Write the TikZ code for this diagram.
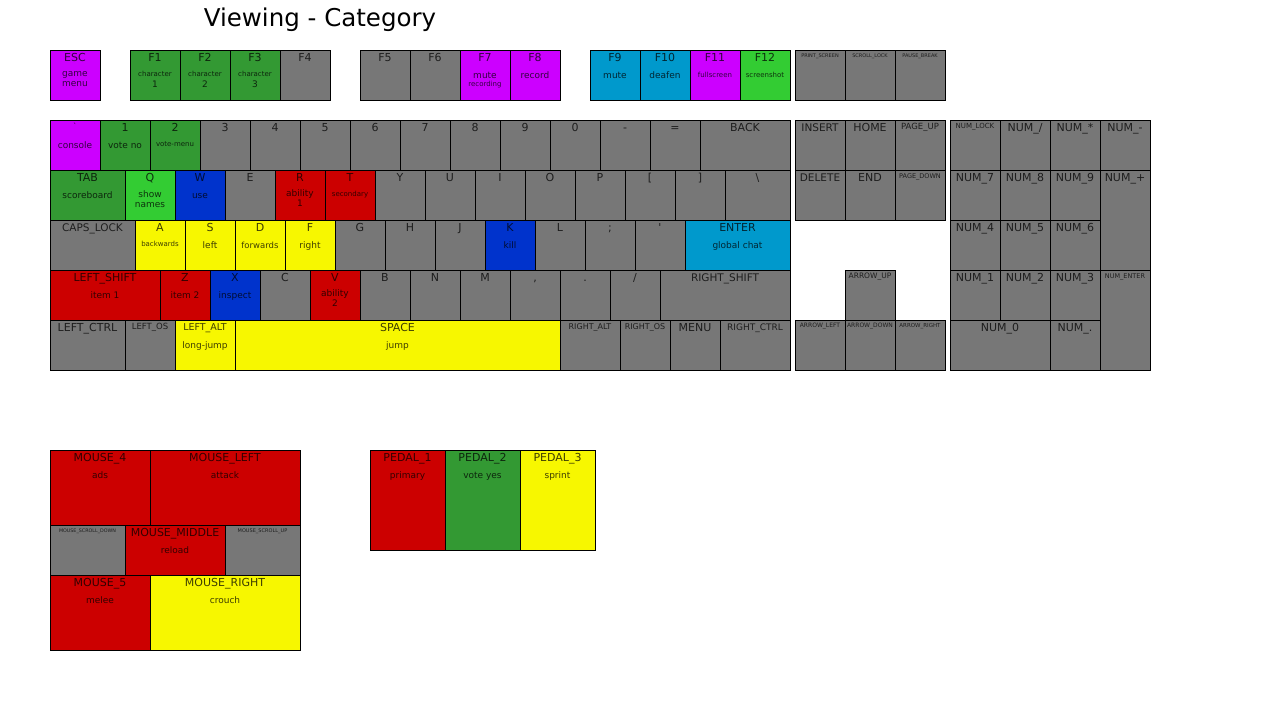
\documentclass[tikz,border=0pt]{standalone}
\usepackage{fontspec}
\newfontfamily\df{DejaVu Sans}
\definecolor{gy}{HTML}{777777}
\definecolor{pu}{HTML}{CC00FF}
\definecolor{dg}{HTML}{339933}
\definecolor{lg}{HTML}{33CC33}
\definecolor{bl}{HTML}{0033CC}
\definecolor{rd}{HTML}{CC0000}
\definecolor{ye}{HTML}{F7F700}
\definecolor{cy}{HTML}{0099CC}
\tikzset{
  key/.style={draw=black, line width=0.8pt, inner sep=0pt, outer sep=0pt, rectangle},
  lbl/.style={inner sep=0pt, outer sep=0pt, text=black, text opacity=0.75}
}
% #1 name, #2 x, #3 y, #4 w, #5 h, #6 colour, #7 label, #8 size
\newcommand\KEY[8]{%
  \node[key, fill=#6, minimum width=#4, minimum height=#5, anchor=north west] (#1) at (#2,#3) {};
  \node[lbl, font=\df\fontsize{#8}{#8}\selectfont, anchor=base] (#1-t) at ({#2+#4/2},{#3+3.5+0.73*#8}) {#7};}
% #1 key, #2 suffix, #3 offset, #4 size, #5 text
\newcommand\DSC[5]{%
  \node[lbl, font=\df\fontsize{#4}{#4}\selectfont, anchor=base, yshift=-#3pt] (#1-#2) at (#1.north) {#5};}
\begin{document}
\begin{tikzpicture}[x=1pt,y=-1pt]
\fill[white] (0,0) rectangle (1280,720);
\useasboundingbox (0,0) rectangle (1280,720);
\node[font=\df\fontsize{24.5}{24.5}\selectfont, inner sep=0pt] (title) at (320,20) {Viewing - Category};

% ---- function row
\KEY{esc}{50}{50}{50}{50}{pu}{ESC}{11}
\DSC{esc}{a}{26.5}{9}{game}\DSC{esc}{b}{36.5}{9}{menu}
\KEY{f1}{130}{50}{50}{50}{dg}{F1}{11}
\DSC{f1}{a}{26.5}{7}{character}\DSC{f1}{b}{37}{9}{1}
\KEY{f2}{180}{50}{50}{50}{dg}{F2}{11}
\DSC{f2}{a}{26.5}{7}{character}\DSC{f2}{b}{37}{9}{2}
\KEY{f3}{230}{50}{50}{50}{dg}{F3}{11}
\DSC{f3}{a}{26.5}{7}{character}\DSC{f3}{b}{37}{9}{3}
\KEY{f4}{280}{50}{50}{50}{gy}{F4}{11}
\KEY{f5}{360}{50}{50}{50}{gy}{F5}{11}
\KEY{f6}{410}{50}{50}{50}{gy}{F6}{11}
\KEY{f7}{460}{50}{50}{50}{pu}{F7}{11}
\DSC{f7}{a}{28}{9}{mute}\DSC{f7}{b}{36}{7}{recording}
\KEY{f8}{510}{50}{50}{50}{pu}{F8}{11}
\DSC{f8}{a}{28}{9}{record}
\KEY{f9}{590}{50}{50}{50}{cy}{F9}{11}
\DSC{f9}{a}{28}{9}{mute}
\KEY{f10}{640}{50}{50}{50}{cy}{F10}{11}
\DSC{f10}{a}{28}{9}{deafen}
\KEY{f11}{690}{50}{50}{50}{pu}{F11}{11}
\DSC{f11}{a}{27}{7}{fullscreen}
\KEY{f12}{740}{50}{50}{50}{lg}{F12}{11}
\DSC{f12}{a}{27}{7}{screenshot}
\KEY{prt}{795}{50}{50}{50}{gy}{PRINT\_SCREEN}{5}
\KEY{scr}{845}{50}{50}{50}{gy}{SCROLL\_LOCK}{5}
\KEY{pau}{895}{50}{50}{50}{gy}{PAUSE\_BREAK}{5}

% ---- number row
\KEY{bq}{50}{120}{50}{50}{pu}{`}{8}
\DSC{bq}{a}{28}{9}{console}
\KEY{k1}{100}{120}{50}{50}{dg}{1}{11}
\DSC{k1}{a}{28}{9}{vote no}
\KEY{k2}{150}{120}{50}{50}{dg}{2}{11}
\DSC{k2}{a}{26.5}{7}{vote-menu}
\KEY{k3}{200}{120}{50}{50}{gy}{3}{11}
\KEY{k4}{250}{120}{50}{50}{gy}{4}{11}
\KEY{k5}{300}{120}{50}{50}{gy}{5}{11}
\KEY{k6}{350}{120}{50}{50}{gy}{6}{11}
\KEY{k7}{400}{120}{50}{50}{gy}{7}{11}
\KEY{k8}{450}{120}{50}{50}{gy}{8}{11}
\KEY{k9}{500}{120}{50}{50}{gy}{9}{11}
\KEY{k0}{550}{120}{50}{50}{gy}{0}{11}
\KEY{kmin}{600}{120}{50}{50}{gy}{-}{11}
\KEY{keq}{650}{120}{50}{50}{gy}{=}{11}
\KEY{back}{700}{120}{90}{50}{gy}{BACK}{11}

% ---- qwerty row
\KEY{tab}{50}{170}{75}{50}{dg}{TAB}{11}
\DSC{tab}{a}{28}{9}{scoreboard}
\KEY{q}{125}{170}{50}{50}{lg}{Q}{11}
\DSC{q}{a}{27}{9}{show}\DSC{q}{b}{37}{9}{names}
\KEY{w}{175}{170}{50}{50}{bl}{W}{11}
\DSC{w}{a}{28}{9}{use}
\KEY{e}{225}{170}{50}{50}{gy}{E}{11}
\KEY{r}{275}{170}{50}{50}{rd}{R}{11}
\DSC{r}{a}{26.5}{9}{ability}\DSC{r}{b}{36.5}{9}{1}
\KEY{t}{325}{170}{50}{50}{rd}{T}{11}
\DSC{t}{a}{26}{7}{secondary}
\KEY{y}{375}{170}{50}{50}{gy}{Y}{11}
\KEY{u}{425}{170}{50}{50}{gy}{U}{11}
\KEY{i}{475}{170}{50}{50}{gy}{I}{11}
\KEY{o}{525}{170}{50}{50}{gy}{O}{11}
\KEY{p}{575}{170}{50}{50}{gy}{P}{11}
\KEY{lbr}{625}{170}{50}{50}{gy}{[}{11}
\KEY{rbr}{675}{170}{50}{50}{gy}{]}{11}
\KEY{bsl}{725}{170}{65}{50}{gy}{\textbackslash}{11}

% ---- home row
\KEY{caps}{50}{220}{85}{50}{gy}{CAPS\_LOCK}{10.5}
\KEY{a}{135}{220}{50}{50}{ye}{A}{11}
\DSC{a}{a}{26}{7}{backwards}
\KEY{s}{185}{220}{50}{50}{ye}{S}{11}
\DSC{s}{a}{28}{9}{left}
\KEY{d}{235}{220}{50}{50}{ye}{D}{11}
\DSC{d}{a}{28}{8.5}{forwards}
\KEY{f}{285}{220}{50}{50}{ye}{F}{11}
\DSC{f}{a}{28}{9}{right}
\KEY{g}{335}{220}{50}{50}{gy}{G}{11}
\KEY{h}{385}{220}{50}{50}{gy}{H}{11}
\KEY{j}{435}{220}{50}{50}{gy}{J}{11}
\KEY{k}{485}{220}{50}{50}{bl}{K}{11}
\DSC{k}{a}{28}{9}{kill}
\KEY{l}{535}{220}{50}{50}{gy}{L}{11}
\KEY{sc}{585}{220}{50}{50}{gy}{;}{11}
\KEY{ap}{635}{220}{50}{50}{gy}{'}{11}
\KEY{ent}{685}{220}{105}{50}{cy}{ENTER}{11}
\DSC{ent}{a}{28}{9}{global chat}

% ---- shift row
\KEY{ls}{50}{270}{110}{50}{rd}{LEFT\_SHIFT}{11}
\DSC{ls}{a}{28}{9}{item 1}
\KEY{z}{160}{270}{50}{50}{rd}{Z}{11}
\DSC{z}{a}{28}{9}{item 2}
\KEY{x}{210}{270}{50}{50}{bl}{X}{11}
\DSC{x}{a}{28}{9}{inspect}
\KEY{c}{260}{270}{50}{50}{gy}{C}{11}
\KEY{v}{310}{270}{50}{50}{rd}{V}{11}
\DSC{v}{a}{26.5}{9}{ability}\DSC{v}{b}{36.5}{9}{2}
\KEY{b}{360}{270}{50}{50}{gy}{B}{11}
\KEY{n}{410}{270}{50}{50}{gy}{N}{11}
\KEY{m}{460}{270}{50}{50}{gy}{M}{11}
\KEY{cm}{510}{270}{50}{50}{gy}{,}{11}
\KEY{pd}{560}{270}{50}{50}{gy}{.}{11}
\KEY{sl}{610}{270}{50}{50}{gy}{/}{11}
\KEY{rs}{660}{270}{130}{50}{gy}{RIGHT\_SHIFT}{10.5}

% ---- bottom row
\KEY{lc}{50}{320}{75}{50}{gy}{LEFT\_CTRL}{11}
\KEY{lo}{125}{320}{50}{50}{gy}{LEFT\_OS}{8.5}
\KEY{la}{175}{320}{60}{50}{ye}{LEFT\_ALT}{9.5}
\DSC{la}{a}{28}{9}{long-jump}
\KEY{sp}{235}{320}{325}{50}{ye}{SPACE}{11}
\DSC{sp}{a}{28}{9}{jump}
\KEY{ra}{560}{320}{60}{50}{gy}{RIGHT\_ALT}{8}
\KEY{ro}{620}{320}{50}{50}{gy}{RIGHT\_OS}{8}
\KEY{mn}{670}{320}{50}{50}{gy}{MENU}{11}
\KEY{rc}{720}{320}{70}{50}{gy}{RIGHT\_CTRL}{9}

% ---- navigation cluster
\KEY{ins}{795}{120}{50}{50}{gy}{INSERT}{10.5}
\KEY{home}{845}{120}{50}{50}{gy}{HOME}{11}
\KEY{pgu}{895}{120}{50}{50}{gy}{PAGE\_UP}{8.5}
\KEY{del}{795}{170}{50}{50}{gy}{DELETE}{10.5}
\KEY{end}{845}{170}{50}{50}{gy}{END}{11}
\KEY{pgd}{895}{170}{50}{50}{gy}{PAGE\_DOWN}{6.5}
\KEY{au}{845}{270}{50}{50}{gy}{ARROW\_UP}{7.5}
\KEY{al}{795}{320}{50}{50}{gy}{ARROW\_LEFT}{6}
\KEY{ad}{845}{320}{50}{50}{gy}{ARROW\_DOWN}{6}
\KEY{ar}{895}{320}{50}{50}{gy}{ARROW\_RIGHT}{5.5}

% ---- numpad
\KEY{nl}{950}{120}{50}{50}{gy}{NUM\_LOCK}{7}
\KEY{ndiv}{1000}{120}{50}{50}{gy}{NUM\_/}{11}
\KEY{nmul}{1050}{120}{50}{50}{gy}{NUM\_*}{11}
\KEY{nsub}{1100}{120}{50}{50}{gy}{NUM\_-}{11}
\KEY{n7}{950}{170}{50}{50}{gy}{NUM\_7}{11}
\KEY{n8}{1000}{170}{50}{50}{gy}{NUM\_8}{11}
\KEY{n9}{1050}{170}{50}{50}{gy}{NUM\_9}{11}
\KEY{nadd}{1100}{170}{50}{100}{gy}{NUM\_+}{11}
\KEY{n4}{950}{220}{50}{50}{gy}{NUM\_4}{11}
\KEY{n5}{1000}{220}{50}{50}{gy}{NUM\_5}{11}
\KEY{n6}{1050}{220}{50}{50}{gy}{NUM\_6}{11}
\KEY{n1}{950}{270}{50}{50}{gy}{NUM\_1}{11}
\KEY{n2}{1000}{270}{50}{50}{gy}{NUM\_2}{11}
\KEY{n3}{1050}{270}{50}{50}{gy}{NUM\_3}{11}
\KEY{nent}{1100}{270}{50}{100}{gy}{NUM\_ENTER}{6.5}
\KEY{n0}{950}{320}{100}{50}{gy}{NUM\_0}{11}
\KEY{ndot}{1050}{320}{50}{50}{gy}{NUM\_.}{11}

% ---- mouse
\KEY{m4}{50}{450}{100}{75}{rd}{MOUSE\_4}{11}
\DSC{m4}{a}{28}{9}{ads}
\KEY{mlft}{150}{450}{150}{75}{rd}{MOUSE\_LEFT}{11}
\DSC{mlft}{a}{28}{9}{attack}
\KEY{msd}{50}{525}{75}{50}{gy}{MOUSE\_SCROLL\_DOWN}{4.8}
\KEY{mmid}{125}{525}{100}{50}{rd}{MOUSE\_MIDDLE}{11}
\DSC{mmid}{a}{28}{9}{reload}
\KEY{msu}{225}{525}{75}{50}{gy}{MOUSE\_SCROLL\_UP}{5}
\KEY{m5}{50}{575}{100}{75}{rd}{MOUSE\_5}{11}
\DSC{m5}{a}{28}{9}{melee}
\KEY{mrgt}{150}{575}{150}{75}{ye}{MOUSE\_RIGHT}{11}
\DSC{mrgt}{a}{28}{9}{crouch}

% ---- pedals
\KEY{p1}{370}{450}{75}{100}{rd}{PEDAL\_1}{11}
\DSC{p1}{a}{28}{9}{primary}
\KEY{p2}{445}{450}{75}{100}{dg}{PEDAL\_2}{11}
\DSC{p2}{a}{28}{9}{vote yes}
\KEY{p3}{520}{450}{75}{100}{ye}{PEDAL\_3}{11}
\DSC{p3}{a}{28}{9}{sprint}
\end{tikzpicture}
\end{document}
